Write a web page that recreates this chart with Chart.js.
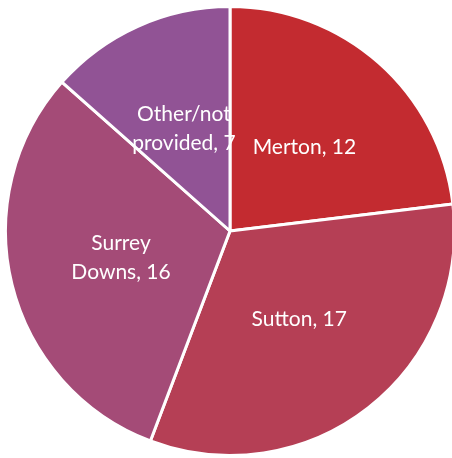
<!DOCTYPE html>
<html>
<head>
<meta charset="utf-8">
<script src="https://cdn.jsdelivr.net/npm/chart.js@4/dist/chart.umd.min.js"></script>
<style>
  html, body { margin: 0; padding: 0; background: #fff; overflow: hidden; width: 452px; height: 458px; }
  #wrap { position: absolute; left: 4px; top: 5px; width: 452px; height: 452px; }
</style>
</head>
<body>
<div id="wrap"><canvas id="areaPie"></canvas></div>
<script>
// referrals by area
const areas = ["Merton", "Sutton", "Surrey Downs", "Other/not provided"];
const counts = [12, 17, 16, 7];
const sliceColours = ["#C32B30", "#B53F55", "#A44B77", "#915395"];
// how each label is broken over lines (value goes on the last line)
const labelLines = [["Merton"], ["Sutton"], ["Surrey", "Downs"], ["Other/not", "provided"]];

// writes "Name, value" in the middle of each slice, Excel style
const sliceLabels = {
    id: "sliceLabels",
    afterDatasetsDraw(chart) {
        const ctx = chart.ctx;
        const meta = chart.getDatasetMeta(0);
        ctx.save();
        ctx.fillStyle = "#ffffff";
        ctx.font = "21px Lato, 'Open Sans', sans-serif";
        ctx.textAlign = "center";
        ctx.textBaseline = "middle";
        meta.data.forEach((arc, i) => {
            const p = arc.getProps(["x", "y", "startAngle", "endAngle", "outerRadius"], true);
            const mid = (p.startAngle + p.endAngle) / 2;
            const r = p.outerRadius * 0.5;
            const cx = p.x + Math.cos(mid) * r;
            const cy = p.y + Math.sin(mid) * r;
            const lines = labelLines[i].slice();
            lines[lines.length - 1] += ", " + counts[i];
            const lh = 29;
            lines.forEach((txt, k) => {
                ctx.fillText(txt, cx, cy + (k - (lines.length - 1) / 2) * lh);
            });
        });
        ctx.restore();
    }
};

new Chart(document.getElementById("areaPie").getContext("2d"), {
    type: "pie",
    data: {
        labels: areas,
        datasets: [{
            data: counts,
            backgroundColor: sliceColours,
            borderColor: "#ffffff",
            borderWidth: 3
        }]
    },
    options: {
        responsive: true,
        maintainAspectRatio: false,
        animation: false,
        layout: { padding: 0 },
        plugins: {
            legend: { display: false },
            tooltip: { enabled: false }
        }
    },
    plugins: [sliceLabels]
});
</script>
</body>
</html>
